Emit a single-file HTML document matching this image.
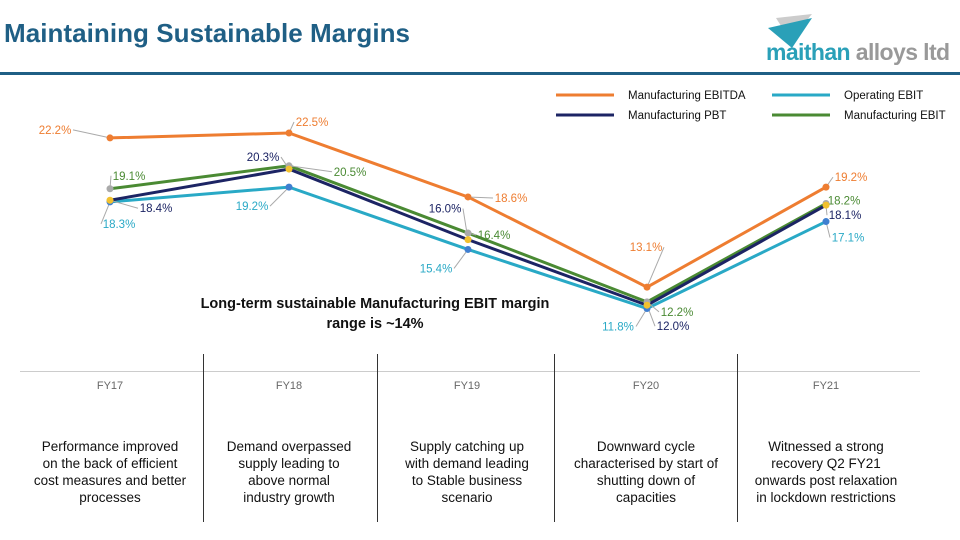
<!DOCTYPE html>
<html><head><meta charset="utf-8"><style>
body{margin:0;width:960px;height:540px;background:#fff;overflow:hidden;font-family:"Liberation Sans",sans-serif;position:relative}
.t{position:absolute}
.cap{position:absolute;top:438px;width:176px;text-align:center;font-size:13.5px;line-height:17px;color:#111;white-space:nowrap}
.yr{position:absolute;top:380px;width:176px;text-align:center;font-size:11px;color:#666}
.div{position:absolute;top:354px;height:168px;border-left:1.5px solid #333}
</style></head><body>
<div class="t" style="left:4px;top:18px;font-size:26px;color:#1f5f85;font-weight:bold;letter-spacing:0.05px;white-space:nowrap">Maintaining Sustainable Margins</div>
<svg class="t" style="left:766px;top:10px" width="70" height="40"><polygon points="10,8 46,4 24,30" fill="#ccc"/><polygon points="2,18 46,8 26,38" fill="#2aa0b8"/></svg>
<div class="t" style="left:766px;top:39px;font-size:23px;font-weight:bold;letter-spacing:-0.6px;white-space:nowrap"><span style="color:#2aa0b8">maithan</span> <span style="color:#999">alloys ltd</span></div>
<div class="t" style="left:0;top:72px;width:960px;height:3px;background:#1f5f85"></div>
<svg id="chart" class="t" style="left:0;top:0" width="960" height="540"></svg>
<div class="t" style="left:195px;top:294px;width:360px;text-align:center;font-size:14.5px;font-weight:bold;line-height:20px;color:#111">Long-term sustainable Manufacturing EBIT margin<br>range is ~14%</div>
<div class="t" style="left:20px;top:371px;width:900px;border-top:1px solid #ccc"></div>
<div class="div" style="left:203px"></div>
<div class="div" style="left:377px"></div>
<div class="div" style="left:554px"></div>
<div class="div" style="left:737px"></div>
<div class="yr" style="left:22px">FY17</div>
<div class="yr" style="left:201px">FY18</div>
<div class="yr" style="left:379px">FY19</div>
<div class="yr" style="left:558px">FY20</div>
<div class="yr" style="left:738px">FY21</div>
<div class="cap" style="left:22px">Performance improved<br>on the back of efficient<br>cost measures and better<br>processes</div>
<div class="cap" style="left:201px">Demand overpassed<br>supply leading to<br>above normal<br>industry growth</div>
<div class="cap" style="left:379px">Supply catching up<br>with demand leading<br>to Stable business<br>scenario</div>
<div class="cap" style="left:558px">Downward cycle<br>characterised by start of<br>shutting down of<br>capacities</div>
<div class="cap" style="left:738px">Witnessed a strong<br>recovery Q2 FY21<br>onwards post relaxation<br>in lockdown restrictions</div>
<script>
const categories=["FY17","FY18","FY19","FY20","FY21"];
const ebitda=[22.2,22.5,18.6,13.1,19.2];
const pbt=[18.4,20.3,16.0,12.0,18.1];
const opEbit=[18.3,19.2,15.4,11.8,17.1];
const mfgEbit=[19.1,20.5,16.4,12.2,18.2];
const xs=i=>110+i*179;
const ys=v=>133+(22.5-v)*16.4;
const NS="http://www.w3.org/2000/svg";
const svg=document.getElementById('chart');
function mk(t,a){const e=document.createElementNS(NS,t);for(const k in a)e.setAttribute(k,a[k]);svg.appendChild(e);return e;}
const series=[
 {n:'ebitda',d:ebitda,c:'#ee7d31',m:'#ee7d31',lc:'#ee7d31',off:[[-55,-8],[23,-11],[43,1],[-1,-40],[25,-10]]},
 {n:'op-ebit',d:opEbit,c:'#29a9c6',m:'#3f7fd0',lc:'#29a9c6',off:[[9,22],[-37,19],[-32,19],[-29,18],[22,16]]},
 {n:'mfg-ebit',d:mfgEbit,c:'#4a8a33',m:'#aaaaaa',lc:'#4a8a33',off:[[19,-13],[61,6],[26,2],[30,10],[18,-3]]},
 {n:'pbt',d:pbt,c:'#1c2464',m:'#f2c12e',lc:'#1c2464',off:[[46,8],[-26,-12],[-23,-31],[26,21],[19,10]]}
];
series.forEach(s=>{
 const p=mk('polyline',{points:s.d.map((v,i)=>xs(i)+','+ys(v)).join(' '),fill:'none',stroke:s.c,'stroke-width':3});
 
 
});
series.forEach(s=>{
 s.d.forEach((v,i)=>{
  const x=xs(i),y=ys(v),lx=x+s.off[i][0],ly=y+s.off[i][1];
  const ld=mk('line',{x1:x,y1:y,x2:lx+(lx>x?-18:18),y2:ly,stroke:'#aaa','stroke-width':1});
  
  
 });
});
series.forEach(s=>{
 s.d.forEach((v,i)=>{
  const c=mk('circle',{cx:xs(i),cy:ys(v),r:3.5,fill:s.m});
  
  
  const t=mk('text',{x:xs(i)+s.off[i][0],y:ys(v)+s.off[i][1]+4,'text-anchor':'middle','font-size':11.5,fill:s.lc,'font-family':'Liberation Sans, sans-serif'});
  t.textContent=v.toFixed(1)+'%';
  
  
 });
});
const legend=[['Manufacturing EBITDA','#ee7d31',556,95],['Manufacturing PBT','#1c2464',556,115],['Operating EBIT','#29a9c6',772,95],['Manufacturing EBIT','#4a8a33',772,115]];
legend.forEach(l=>{
 const ln=mk('line',{x1:l[2],x2:l[2]+58,y1:l[3],y2:l[3],stroke:l[1],'stroke-width':3});
 
 
 const t=mk('text',{x:l[2]+72,y:l[3]+4,'font-size':11.5,fill:'#111','font-family':'Liberation Sans, sans-serif'});
 t.textContent=l[0];
 
 
});
</script>
</body></html>
